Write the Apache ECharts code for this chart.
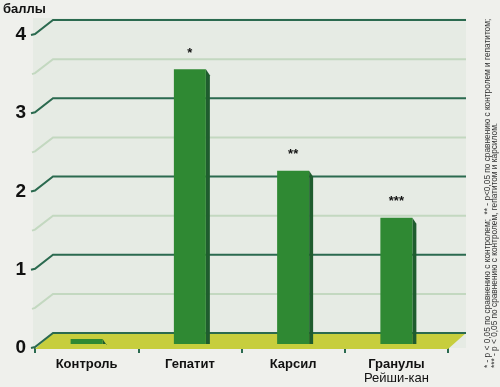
<!DOCTYPE html>
<html><head><meta charset="utf-8">
<script src="https://cdn.jsdelivr.net/npm/echarts@6/dist/echarts.min.js"></script>
<style>html,body{margin:0;padding:0;background:#eff0ec;} #c{width:500px;height:387px;}</style>
</head><body><div id="c"></div>
<script>
const categories = ['Контроль', 'Гепатит', 'Карсил', 'Гранулы\nРейши-кан'];
const values = [0.05, 3.5, 2.2, 1.6];
const marks = ['', '*', '**', '***'];
const yTicks = [0, 1, 2, 3, 4];
const majorLines = [0, 1, 2, 3, 4];
const minorLines = [0.5, 1.5, 2.5, 3.5];
const yTitle = 'баллы';
const footnote1 = '* - р < 0,05 по сравнению с контролем;  ** - р<0,05 по сравнению с контролем и гепатитом;';
const footnote2 = '*** - р < 0,05 по сравнению с контролем, гепатитом и карсилом.';

const DX = 18, DY = 15;
const MAJOR = '#2b6a4f', MINOR = '#c3d8c0';
const chart = echarts.init(document.getElementById('c'), null, {renderer: 'canvas'});

const gridData = majorLines.map(v => [0, v, 1]).concat(minorLines.map(v => [0, v, 0]));

chart.setOption({
  animation: false,
  backgroundColor: '#eff0ec',
  grid: {left: 35, right: 52, top: 35, bottom: 39},
  xAxis: {
    type: 'category', data: categories,
    axisLine: {show: false},
    axisTick: {show: true, length: 5, lineStyle: {color: MAJOR, width: 2}},
    axisLabel: {
      interval: 0, margin: 9, color: '#111', fontFamily: 'Liberation Sans', fontSize: 13, fontWeight: 'bold',
      formatter: function (v) {
        const p = v.split('\n');
        return p.length > 1 ? '{b|' + p[0] + '}\n{n|' + p[1] + '}' : '{b|' + v + '}';
      },
      rich: {
        b: {fontFamily: 'Liberation Sans', fontSize: 13, fontWeight: 'bold', color: '#111', lineHeight: 14},
        n: {fontFamily: 'Liberation Sans', fontSize: 13, fontWeight: 'normal', color: '#111', lineHeight: 14}
      }
    }
  },
  yAxis: {
    type: 'value', min: 0, max: 4, interval: 1,
    axisLine: {show: false},
    axisTick: {show: false},
    splitLine: {show: false},
    axisLabel: {margin: 9, color: '#111', fontFamily: 'Liberation Sans', fontSize: 19, fontWeight: 'bold',
      formatter: v => yTicks.indexOf(v) >= 0 ? String(v) : ''}
  },
  graphic: [
    {type: 'text', left: 3, top: 3, z: 100, style: {text: yTitle, font: 'bold 13px "Liberation Sans"', fill: '#111'}},
    {type: 'text', x: 488, y: 368, z: 100, rotation: Math.PI / 2,
      style: {text: footnote1, font: '8.3px "Liberation Sans"', fill: '#333', textAlign: 'left', textVerticalAlign: 'middle'}},
    {type: 'text', x: 495, y: 368, z: 100, rotation: Math.PI / 2,
      style: {text: footnote2, font: '8.3px "Liberation Sans"', fill: '#333', textAlign: 'left', textVerticalAlign: 'middle'}}
  ],
  series: [
    {
      type: 'custom', silent: true, z: 1, data: [[0, 0]],
      renderItem: function (params, api) {
        const cs = params.coordSys;
        return {type: 'rect', shape: {x: cs.x - 2, y: 18, width: cs.width + DX + 2, height: cs.y + cs.height - 18},
          style: {fill: '#e6ebe4'}};
      }
    },
    {
      type: 'custom', silent: true, z: 2, data: [[0, 0]],
      renderItem: function (params, api) {
        const cs = params.coordSys;
        const y0 = api.coord([0, 0])[1];
        return {type: 'polygon', shape: {points: [
          [cs.x, y0 + 1], [cs.x + DX, y0 - DY], [cs.x + cs.width + DX, y0 - DY], [cs.x + cs.width, y0 + 1]
        ]}, style: {fill: '#c7ce3d'}};
      }
    },
    {
      type: 'custom', silent: true, z: 3, data: gridData,
      renderItem: function (params, api) {
        const cs = params.coordSys;
        const y = api.coord([0, api.value(1)])[1];
        const major = api.value(2) === 1;
        const x0 = major ? cs.x - 4 : cs.x - 3;
        return {type: 'polyline', shape: {points: [
          [x0, y], [cs.x, y - 1], [cs.x + DX, y - DY], [cs.x + cs.width + DX, y - DY]
        ]}, style: {stroke: major ? MAJOR : MINOR, lineWidth: 2, fill: null}};
      }
    },
    {
      type: 'custom', z: 4,
      data: values.map((v, i) => [i, v]),
      renderItem: function (params, api) {
        const i = api.value(0), v = api.value(1);
        const c = api.coord([i, v]);
        const b = api.coord([i, 0]);
        const w = 32;
        const x1 = c[0] - w / 2, x2 = c[0] + w / 2;
        const top = c[1] - 5, bottom = b[1] - 4;
        return {type: 'group', children: [
          {type: 'polygon', shape: {points: [[x2, top], [x2 + 4, top + 6], [x2 + 4, bottom], [x2, bottom]]},
            style: {fill: '#1f5c2e'}},
          {type: 'rect', shape: {x: x1, y: top, width: w, height: bottom - top}, style: {fill: '#2f8933'}},
          {type: 'text', x: c[0], y: top - 16,
            style: {text: marks[i], font: 'bold 13px "Liberation Sans"', fill: '#111', textAlign: 'center', textVerticalAlign: 'middle'}}
        ]};
      }
    }
  ]
});
</script></body></html>
